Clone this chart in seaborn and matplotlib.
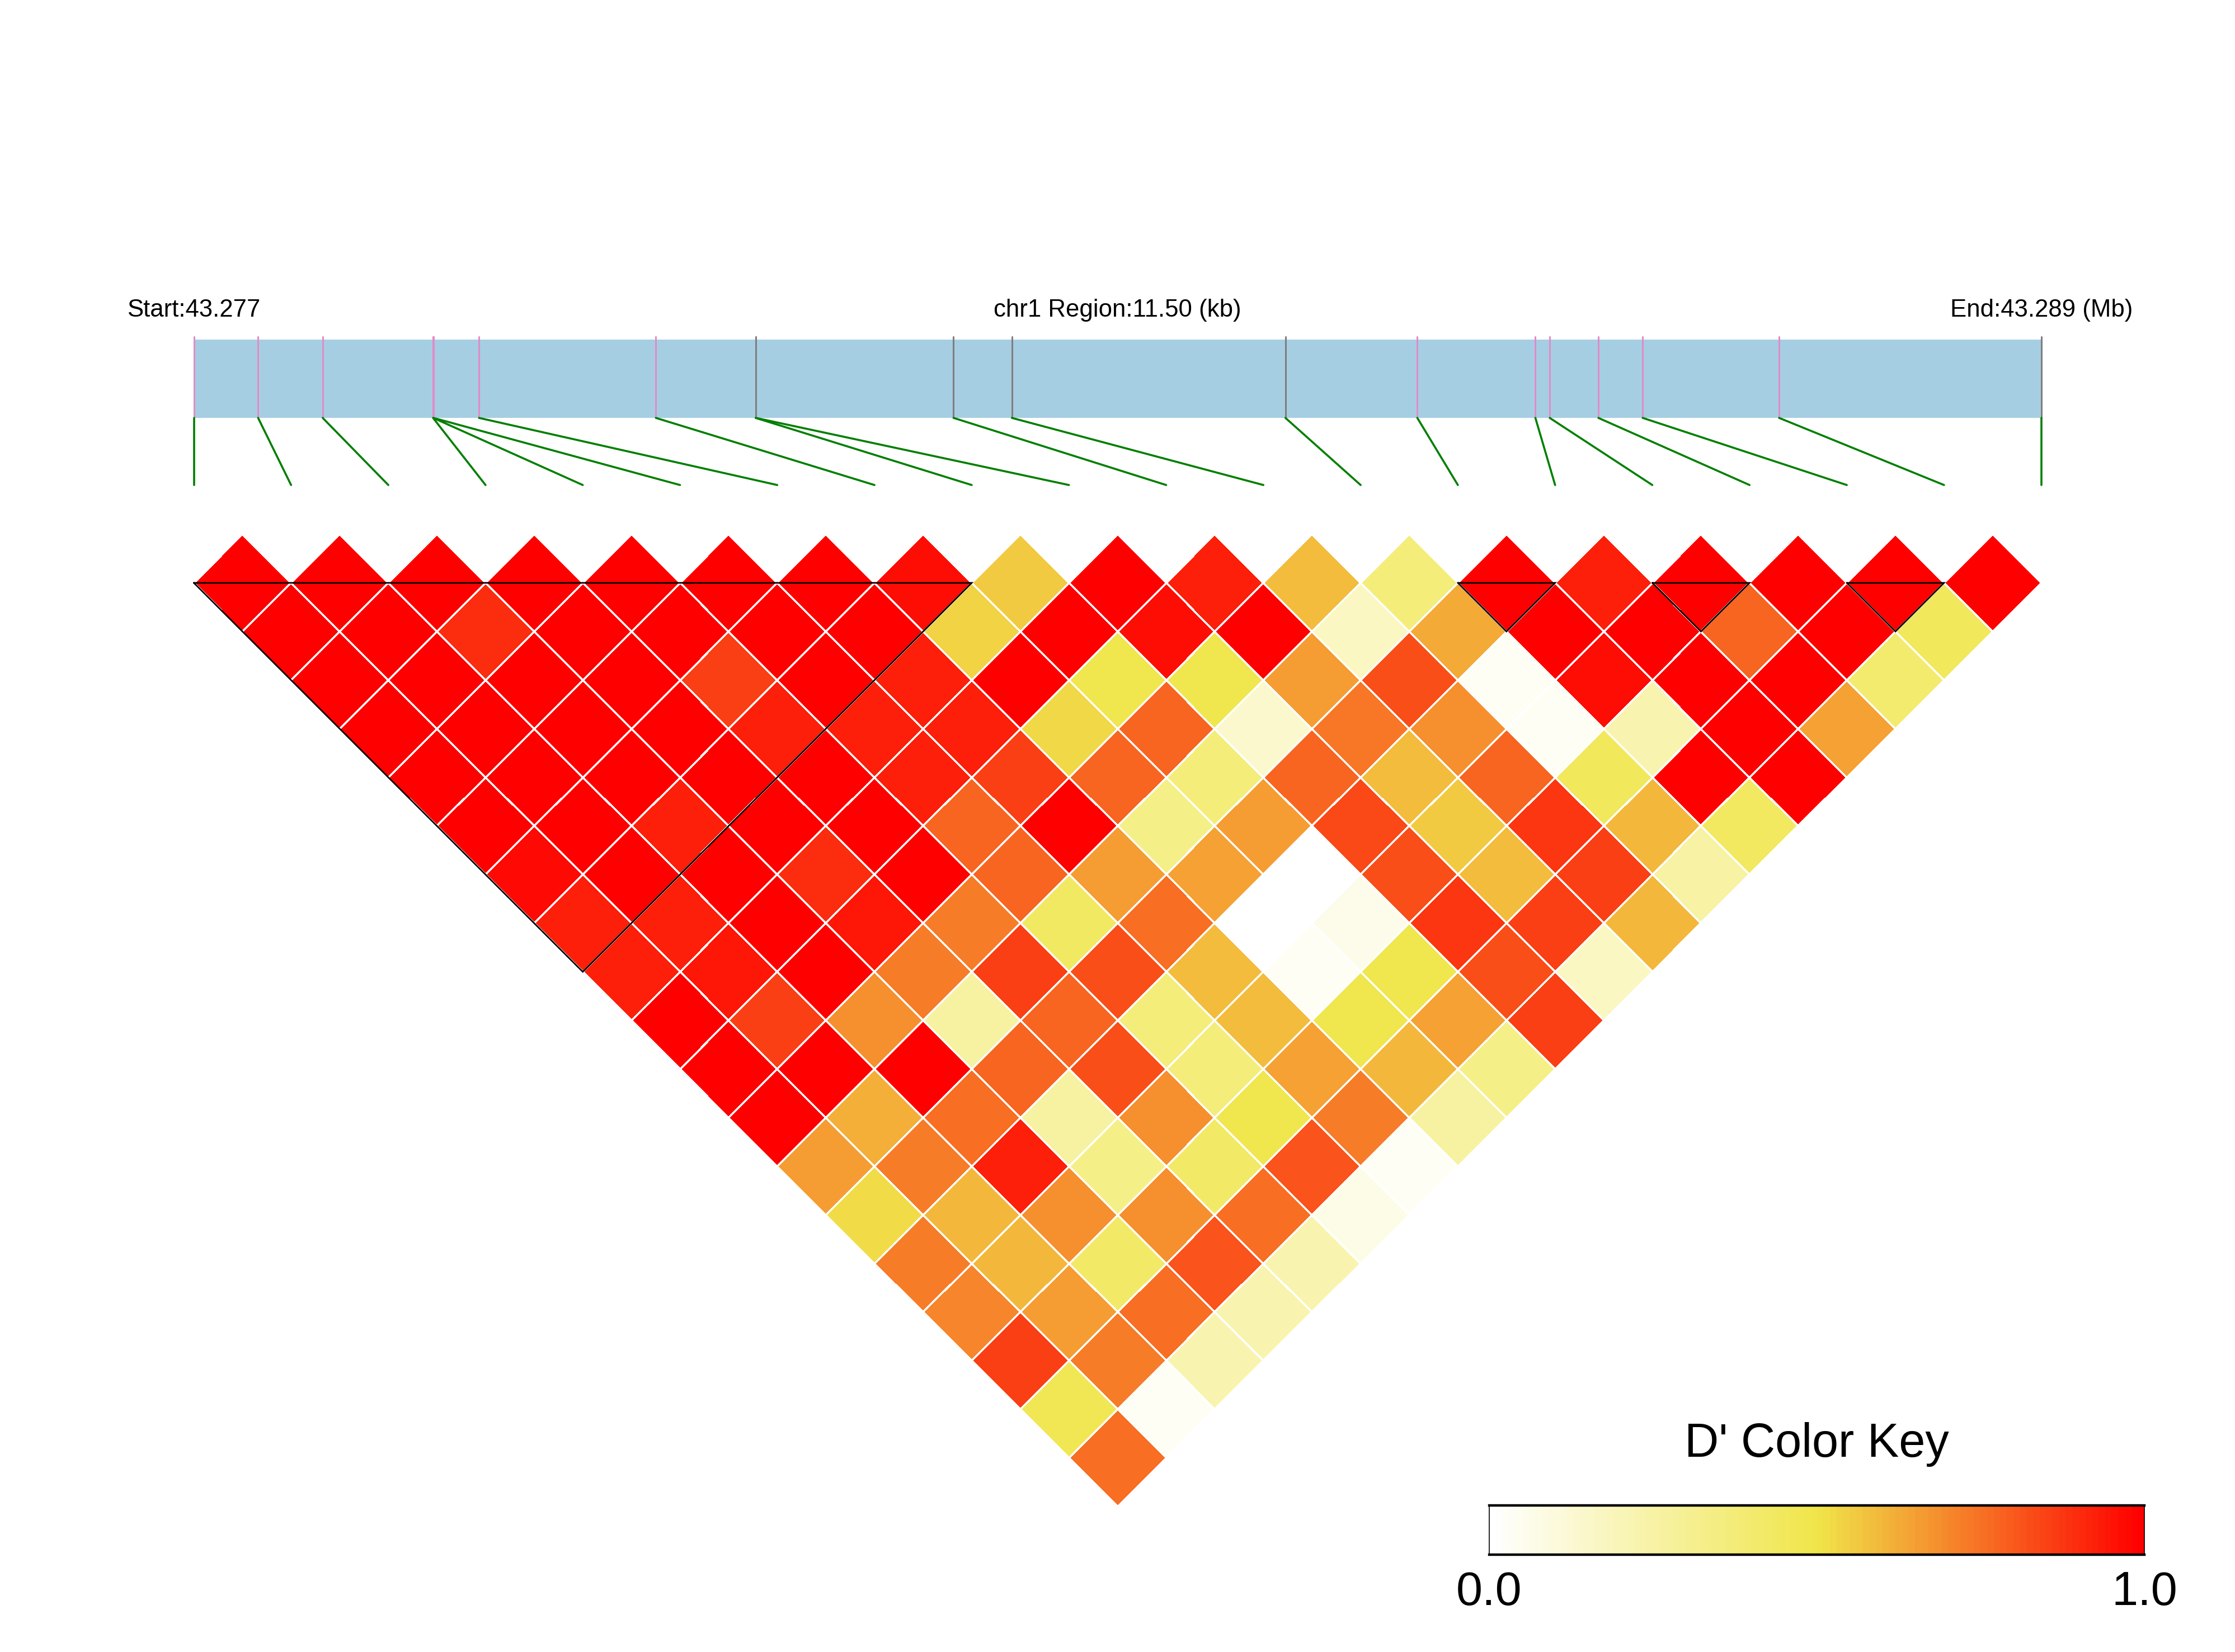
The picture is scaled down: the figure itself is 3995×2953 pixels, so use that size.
import numpy as np
import pandas as pd
import matplotlib
matplotlib.use("Agg")
import matplotlib.pyplot as plt
import seaborn as sns
from matplotlib.colors import LinearSegmentedColormap
from matplotlib.transforms import Affine2D, blended_transform_factory
from matplotlib.patches import Rectangle

# ---------------- data ----------------
chrom = "chr1"
snp_pos = [43277300, 43277700, 43278102, 43278789, 43278790, 43278791, 43279075,
           43280176, 43280797, 43280798, 43282029, 43282392, 43284095, 43284916,
           43285651, 43285740, 43286043, 43286319, 43287168, 43288800]
snp_class = ["p", "p", "p", "p", "p", "p", "p", "p", "p", "g", "g", "g", "g",
             "p", "p", "p", "p", "p", "p", "g"]

# D' values, row i lists pairs (i, j) for j = i+1 .. 19
dprime_rows = [
    [1, 1, 1, 1, 1, 1, .98, .93, .93, 1, 1, 1, .66, .52, .73, .71, .86, .47, .76],
    [1, 1, 1, 1, 1, 1, 1, .93, .95, .86, 1, .62, .73, .60, .60, .66, .73, .03],
    [1, .90, 1, 1, 1, .93, 1, 1, 1, .69, 1, .76, .93, .69, .42, .76, .22],
    [1, 1, 1, 1, 1, 1, .90, .95, .73, .26, .78, .26, .33, .69, .82, .22],
    [1, 1, .86, .93, 1, 1, 1, .73, .86, .78, .83, .69, .42, .76, .22],
    [1, 1, 1, .93, .93, .78, .78, .43, .83, .37, .37, .49, .82, .07],
    [1, 1, .93, .93, .86, 1, .66, .76, .59, .59, .65, .73, .03],
    [.97, .54, 1, .53, .78, .33, .65, 0, .03, .49, .60, .26],
    [.56, 1, .49, .78, .37, .66, 0, .06, .49, .65, .33],
    [1, .97, .49, .14, .78, .84, .83, .88, .83, .86],
    [.93, 1, .66, .74, .59, .56, .59, .86, .17],
    [.59, .17, .83, .69, .78, .88, .86, .60],
    [.37, .63, .03, .03, .45, .60, .25],
    [1, 1, .97, .22, 1, .44],
    [.93, 1, 1, 1, 1],
    [1, .78, 1, .65],
    [1, 1, .40],
    [1, .45],
    [1],
]
ld_blocks = [(0, 8), (13, 14), (15, 16), (17, 18)]
key_ticks = [0.0, 1.0]

# ---------------- style ----------------
sns.set_style("white")
plt.rcParams["font.family"] = ["Liberation Sans", "DejaVu Sans"]
plt.rcParams["text.color"] = "black"

W, H = 3995, 2953
fig = plt.figure(figsize=(W / 100, H / 100), dpi=100)
ax = fig.add_axes([0, 0, 1, 1])

n = len(snp_pos)
M = np.full((n, n), np.nan)
for i, row in enumerate(dprime_rows):
    M[i, i + 1:] = row
df = pd.DataFrame(M)
mask = np.isnan(M)

cmap = LinearSegmentedColormap.from_list("dprime", ["#FFFFFF", "#F0E64A", "#FF0000"])

# layout (pixels)
x0 = 346.5
step = 173.8
y_heat_top = 955
y_bar_top, y_bar_bot, y_conn = 607, 747, 867
y_title = 566

sns.heatmap(df, mask=mask, cmap=cmap, vmin=0, vmax=1, cbar=False,
            linewidths=1.6, linecolor="white", ax=ax)
mesh = ax.collections[-1]
rot = Affine2D(np.array([[0.5 * step, 0.5 * step, x0 - 0.5 * step],
                         [0.5 * step, -0.5 * step, y_heat_top],
                         [0, 0, 1]]))
mesh.set_transform(rot + ax.transData)

ax.set_xlim(0, W)
ax.set_ylim(H, 0)
ax.set_axis_off()

# LD block outlines
for a, b in ld_blocks:
    us = [a, b, (a + b) / 2, a]
    vs = [0.5, 0.5, 0.5 + (b - a) / 2, 0.5]
    ax.plot([x0 + step * u for u in us], [y_heat_top + step * v for v in vs],
            color="black", lw=2.0, zorder=6, solid_joinstyle="miter")

# genomic bar
start, end = snp_pos[0], snp_pos[-1]
bar_left, bar_right = x0, x0 + step * (n - 1)
ax.add_patch(Rectangle((bar_left, y_bar_top), bar_right - bar_left,
                       y_bar_bot - y_bar_top, facecolor="#A6CEE3", edgecolor="none", zorder=2))
px_pos = [bar_left + (p - start) / (end - start) * (bar_right - bar_left) for p in snp_pos]
class_col = {"p": "#E08CC8", "g": "#7F7F7F"}
for k in range(n):
    ax.plot([px_pos[k], px_pos[k]], [y_bar_top - 5, y_bar_bot], color=class_col[snp_class[k]],
            lw=2.2, zorder=3)
    ax.plot([px_pos[k], x0 + step * k], [y_bar_bot, y_conn], color="#007F00", lw=2.6, zorder=3)

ax.text(bar_left, y_title, f"Start:{start / 1e6:.3f}", ha="center", va="baseline",
        fontsize=31.5, color="black")
ax.text((bar_left + bar_right) / 2, y_title, f"{chrom} Region:{(end - start) / 1000:.2f} (kb)",
        ha="center", va="baseline", fontsize=31.5, color="black")
ax.text(bar_right, y_title, f"End:{end / 1e6:.3f} (Mb)", ha="center", va="baseline",
        fontsize=31.5, color="black")

# colour key
kx0, kx1, ky0, ky1 = 2662, 3833, 2691, 2779
ax_key = fig.add_axes([kx0 / W, 1 - ky1 / H, (kx1 - kx0) / W, (ky1 - ky0) / H])
ax_key.imshow(np.linspace(0, 1, 100)[None, :], aspect="auto", cmap=cmap, vmin=0, vmax=1,
              extent=(0, 1, 0, 1), interpolation="nearest")
ax_key.set_xlim(0, 1)
ax_key.set_ylim(0, 1)
ax_key.set_xticks([])
ax_key.set_yticks([])
for side, sp in ax_key.spines.items():
    sp.set_visible(True)
    sp.set_color("black")
    sp.set_linewidth(3.2 if side in ("top", "bottom") else 1.2)

ax.text((kx0 + kx1) / 2, 2604, "D' Color Key", ha="center", va="baseline", fontsize=61,
        color="black")
tr = blended_transform_factory(ax_key.transData, ax.transData)
for t in key_ticks:
    ax.text(t, 2869, f"{t:.1f}", ha="center", va="baseline", fontsize=61, transform=tr,
            color="black")

fig.savefig("out.png", dpi=100, facecolor="white")
